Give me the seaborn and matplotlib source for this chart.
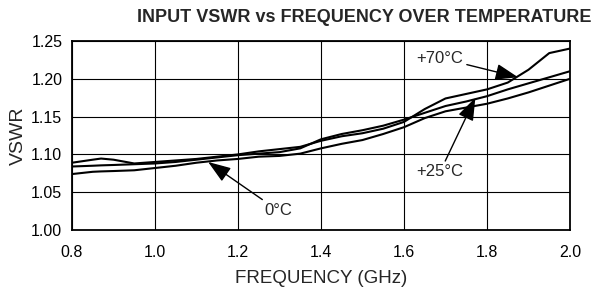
import numpy as np
import pandas as pd
import matplotlib
matplotlib.use("Agg")
import matplotlib.pyplot as plt
import seaborn as sns

# data
freq = [0.80, 0.85, 0.87, 0.90, 0.95, 1.00, 1.05, 1.10, 1.15, 1.20, 1.25, 1.30, 1.35,
        1.40, 1.45, 1.50, 1.55, 1.60, 1.65, 1.70, 1.75, 1.80, 1.85, 1.90, 1.95, 2.00]
vswr_70 = [1.089, 1.093, 1.0945, 1.093, 1.088, 1.090, 1.092, 1.094, 1.097, 1.100, 1.104, 1.107, 1.110,
           1.118, 1.124, 1.128, 1.134, 1.143, 1.160, 1.174, 1.180, 1.186, 1.195, 1.212, 1.234, 1.240]
vswr_25 = [1.084, 1.085, 1.0855, 1.086, 1.087, 1.088, 1.090, 1.093, 1.096, 1.099, 1.101, 1.103, 1.108,
           1.120, 1.127, 1.132, 1.138, 1.146, 1.155, 1.164, 1.170, 1.177, 1.186, 1.194, 1.202, 1.210]
vswr_0 = [1.074, 1.077, 1.0775, 1.078, 1.079, 1.082, 1.085, 1.089, 1.092, 1.094, 1.097, 1.098, 1.101,
          1.108, 1.114, 1.119, 1.127, 1.136, 1.148, 1.157, 1.162, 1.167, 1.174, 1.182, 1.191, 1.200]
temps = ["+70°C", "+25°C", "0°C"]

xticks = [0.8, 1.0, 1.2, 1.4, 1.6, 1.8, 2.0]
yticks = [1.00, 1.05, 1.10, 1.15, 1.20, 1.25]

df = pd.DataFrame({
    "freq": freq * 3,
    "vswr": vswr_70 + vswr_25 + vswr_0,
    "temp": [t for t in temps for _ in freq],
})

sns.set_theme(style="white")
plt.rcParams["font.family"] = ["Liberation Sans", "DejaVu Sans"]

fig = plt.figure(figsize=(6.1, 2.9), dpi=100)
ax = fig.add_axes([72/610, 1-230/290, 498/610, 189/290])

sns.lineplot(data=df, x="freq", y="vswr", hue="temp", palette=["black"]*3,
             legend=False, lw=1.5, ax=ax, zorder=3)

ax.set_xlim(0.8, 2.0)
ax.set_ylim(1.00, 1.25)
ax.set_xticks(xticks)
ax.set_yticks(yticks)
ax.set_xticklabels([f"{v:.1f}" for v in xticks], fontsize=11.5)
ax.set_yticklabels([f"{v:.2f}" for v in yticks], fontsize=11.5)
ax.tick_params(axis="x", length=0, pad=11, colors="black")
ax.tick_params(axis="y", length=0, pad=7, colors="black")
ax.grid(True, color="black", lw=0.8)
for s in ax.spines.values():
    s.set_color("black")
    s.set_linewidth(1.3)
ax.set_xlabel("FREQUENCY (GHz)", fontsize=13.5, labelpad=7)
ax.set_ylabel("VSWR", fontsize=14, labelpad=3)

fig.text(364/610, 1-18/290, "INPUT VSWR vs FREQUENCY OVER TEMPERATURE",
         ha="center", va="center", fontsize=13, fontweight="bold")

arrow = dict(arrowstyle="-|>,head_length=0.7,head_width=0.25", color="black",
             lw=1, mutation_scale=20, shrinkA=0, shrinkB=0)
ax.annotate("+70°C", xy=(1.875, 1.202), xytext=(1.687, 1.2275), fontsize=12,
            ha="center", va="center", arrowprops=arrow)
ax.annotate("+25°C", xy=(1.772, 1.175), xytext=(1.687, 1.077), fontsize=12,
            ha="center", va="center", arrowprops=arrow)
ax.annotate("0°C", xy=(1.128, 1.090), xytext=(1.296, 1.026), fontsize=12,
            ha="center", va="center", arrowprops=arrow)

fig.savefig("out.png", dpi=100)
